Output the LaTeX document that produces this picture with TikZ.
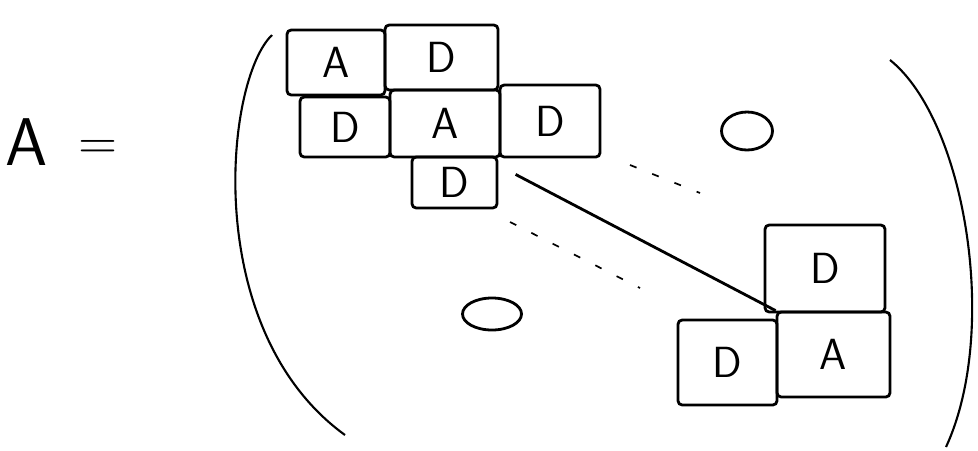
\documentclass[tikz,border=0pt]{standalone}
\usepackage{tikz}
\usetikzlibrary{positioning,shapes.geometric}

\begin{document}
\begin{tikzpicture}[
x=0.025cm,
y=-0.025cm,
line width=2pt,
cell/.style={
draw,
rounded corners=3pt,
inner sep=0pt,
font=\sffamily\fontsize{31}{34}\selectfont
},
zero/.style={
draw,
ellipse,
inner sep=0pt
}
]
\useasboundingbox (0,0) rectangle (978,450);

\node (lhs) at (27,142) {\sffamily\fontsize{48}{52}\selectfont A};
\node (eq) at (98,150) {\sffamily\fontsize{38}{42}\selectfont =};

\node[cell, minimum width=2.45cm, minimum height=1.625cm] (A1) at (336,62.5) {A};
\node[cell, minimum width=2.825cm, minimum height=1.625cm] (D1) at (441.5,57.5) {D};

\node[cell, minimum width=2.25cm, minimum height=1.5cm] (D2) at (345,127) {D};
\node[cell, minimum width=2.75cm, minimum height=1.675cm] (A2) at (445,123.5) {A};
\node[cell, minimum width=2.5cm, minimum height=1.8cm] (D3) at (550,121) {D};

\node[cell, minimum width=2.125cm, minimum height=1.275cm] (D4) at (454.5,182.5) {D};

\node[cell, minimum width=3cm, minimum height=2.175cm] (D5) at (825,268.5) {D};
\node[cell, minimum width=2.475cm, minimum height=2.125cm] (D6) at (727.5,362.5) {D};
\node[cell, minimum width=2.825cm, minimum height=2.125cm] (A3) at (833.5,354.5) {A};

\node[zero, minimum width=1.275cm, minimum height=0.95cm] (Z1) at (747,131) {};
\node[zero, minimum width=1.475cm, minimum height=0.8cm] (Z2) at (492,314) {};

\coordinate (top1) at (630,165);
\coordinate (top2) at (700,193);
\coordinate (bot1) at (510,222);
\coordinate (bot2) at (640,288);

\draw ([shift={(17,16)}]D3.south west)--(A3.north west);
\draw[line width=1.2pt, dash pattern=on 5pt off 12pt] (top1)--(top2);
\draw[line width=1.2pt, dash pattern=on 5pt off 12pt] (bot1)--(bot2);

% brackets
\draw[line width=1.5pt] (272,35) .. controls (225,80) and (200,330) .. (345,435);
\draw[line width=1.5pt] (890,60) .. controls (965,120) and (1000,330) .. (946,447);

\end{tikzpicture}
\end{document}
